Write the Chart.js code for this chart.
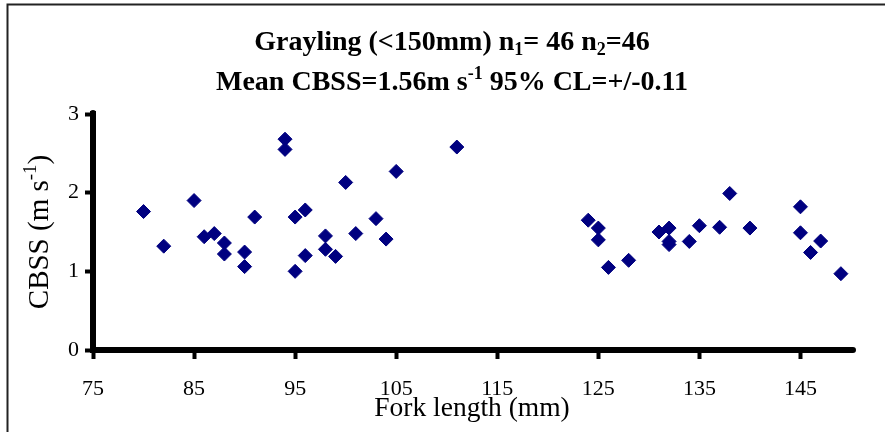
<!DOCTYPE html>
<html>
<head>
<meta charset="utf-8">
<script src="https://cdn.jsdelivr.net/npm/chart.js@4/dist/chart.umd.min.js"></script>
<style>
  html, body { margin: 0; padding: 0; background: #ffffff; }
  #wrap { width: 885px; height: 432px; position: relative; }
  canvas { display: block; }
</style>
</head>
<body>
<div id="wrap"><canvas id="c" width="885" height="432"></canvas></div>
<script>
// ---- data ----
const forkLength = [80, 82, 85, 86, 87, 88, 88, 90, 90, 91, 94, 94, 95, 95, 96, 96, 98, 98, 99, 100, 101, 103, 104, 105, 111,
                    124, 125, 125, 126, 128, 131, 132, 132, 132, 134, 135, 137, 138, 140, 145, 145, 146, 147, 149];
const cbss = [1.76, 1.32, 1.90, 1.44, 1.48, 1.36, 1.22, 1.245, 1.06, 1.69, 2.68, 2.55, 1.69, 1.00, 1.78, 1.20, 1.45, 1.28, 1.19, 2.13, 1.48, 1.67, 1.41, 2.27, 2.58,
              1.65, 1.55, 1.40, 1.05, 1.14, 1.50, 1.55, 1.38, 1.34, 1.38, 1.58, 1.56, 1.99, 1.55, 1.82, 1.49, 1.24, 1.385, 0.97];
const xTicks = [75, 85, 95, 105, 115, 125, 135, 145];
const yTicks = [0, 1, 2, 3];
const titleLine1 = [{t: 'Grayling (<150mm) n'}, {t: '1', sub: true}, {t: '= 46 n'}, {t: '2', sub: true}, {t: '=46'}];
const titleLine2 = [{t: 'Mean CBSS=1.56m s'}, {t: '-1', sup: true}, {t: ' 95% CL=+/-0.11'}];
const xTitle = [{t: 'Fork length (mm)'}];
const yTitle = [{t: 'CBSS (m s'}, {t: '-1', sup: true}, {t: ')'}];

const SERIF = '"Liberation Serif", "Times New Roman", serif';

function drawRich(ctx, segs, cx, cy, size, weight) {
  const parts = segs.map(s => {
    const small = s.sub || s.sup;
    const fs = small ? Math.round(size * 0.65) : size;
    ctx.font = weight + ' ' + fs + 'px ' + SERIF;
    const w = ctx.measureText(s.t).width;
    const dy = s.sub ? size * 0.25 : (s.sup ? -size * 0.32 : 0);
    return {t: s.t, fs, w, dy};
  });
  const total = parts.reduce((a, p) => a + p.w, 0);
  let x = cx - total / 2;
  ctx.textBaseline = 'middle';
  ctx.textAlign = 'left';
  ctx.fillStyle = '#000000';
  parts.forEach(p => {
    ctx.font = weight + ' ' + p.fs + 'px ' + SERIF;
    ctx.fillText(p.t, x, cy + p.dy);
    x += p.w;
  });
}

const decor = {
  id: 'decor',
  beforeDraw(chart) {
    const ctx = chart.ctx;
    ctx.save();
    ctx.fillStyle = '#ffffff';
    ctx.fillRect(0, 0, chart.width, chart.height);
    ctx.strokeStyle = '#222222';
    ctx.lineWidth = 2;
    ctx.beginPath();
    ctx.moveTo(7.5, 432);
    ctx.lineTo(7.5, 4.5);
    ctx.lineTo(885, 4.5);
    ctx.stroke();
    ctx.restore();
  },
  afterDraw(chart) {
    const ctx = chart.ctx;
    const a = chart.chartArea;
    ctx.save();
    // round caps at the free ends of the two axis lines
    ctx.strokeStyle = '#000000';
    ctx.lineWidth = 6;
    ctx.lineCap = 'round';
    ctx.beginPath();
    ctx.moveTo(a.right - 2, a.bottom);
    ctx.lineTo(a.right + 2, a.bottom);
    ctx.moveTo(a.left, a.top + 2);
    ctx.lineTo(a.left, a.top - 1);
    ctx.stroke();
    drawRich(ctx, titleLine1, 452, 43, 28, 'bold');
    drawRich(ctx, titleLine2, 452, 83, 28, 'bold');
    drawRich(ctx, xTitle, (a.left + a.right) / 2, 409, 27.5, 'normal');
    ctx.translate(40, (a.top + a.bottom) / 2);
    ctx.rotate(-Math.PI / 2);
    drawRich(ctx, yTitle, 0, 0, 29, 'normal');
    ctx.restore();
  }
};

new Chart(document.getElementById('c'), {
  type: 'scatter',
  data: {
    datasets: [{
      data: forkLength.map((x, i) => ({x: x, y: cbss[i]})),
      pointStyle: 'rectRot',
      pointRadius: 7,
      pointHoverRadius: 7,
      backgroundColor: '#000080',
      borderColor: '#000080',
      borderWidth: 1
    }]
  },
  options: {
    responsive: false,
    animation: false,
    devicePixelRatio: 1,
    layout: { padding: { top: 114, right: 34, left: 0, bottom: 0 } },
    plugins: { legend: { display: false }, title: { display: false }, tooltip: { enabled: false } },
    scales: {
      x: {
        type: 'linear',
        min: 75, max: 150,
        afterBuildTicks: s => { s.ticks = xTicks.map(v => ({value: v})); },
        afterFit: s => { s.height = 82; },
        border: { display: true, width: 6, color: '#000000' },
        grid: { drawOnChartArea: false, tickLength: 9, tickWidth: 4, tickColor: '#000000' },
        ticks: { color: '#000000', font: { family: SERIF, size: 22 }, padding: 17, maxRotation: 0 }
      },
      y: {
        type: 'linear',
        min: 0, max: 3,
        afterBuildTicks: s => { s.ticks = yTicks.map(v => ({value: v})); },
        afterFit: s => { s.width = 93; },
        border: { display: true, width: 6, color: '#000000' },
        grid: { drawOnChartArea: false, tickLength: 8, tickWidth: 4, tickColor: '#000000' },
        ticks: { color: '#000000', font: { family: SERIF, size: 22 }, padding: 6 }
      }
    }
  },
  plugins: [decor]
});
</script>
</body>
</html>
